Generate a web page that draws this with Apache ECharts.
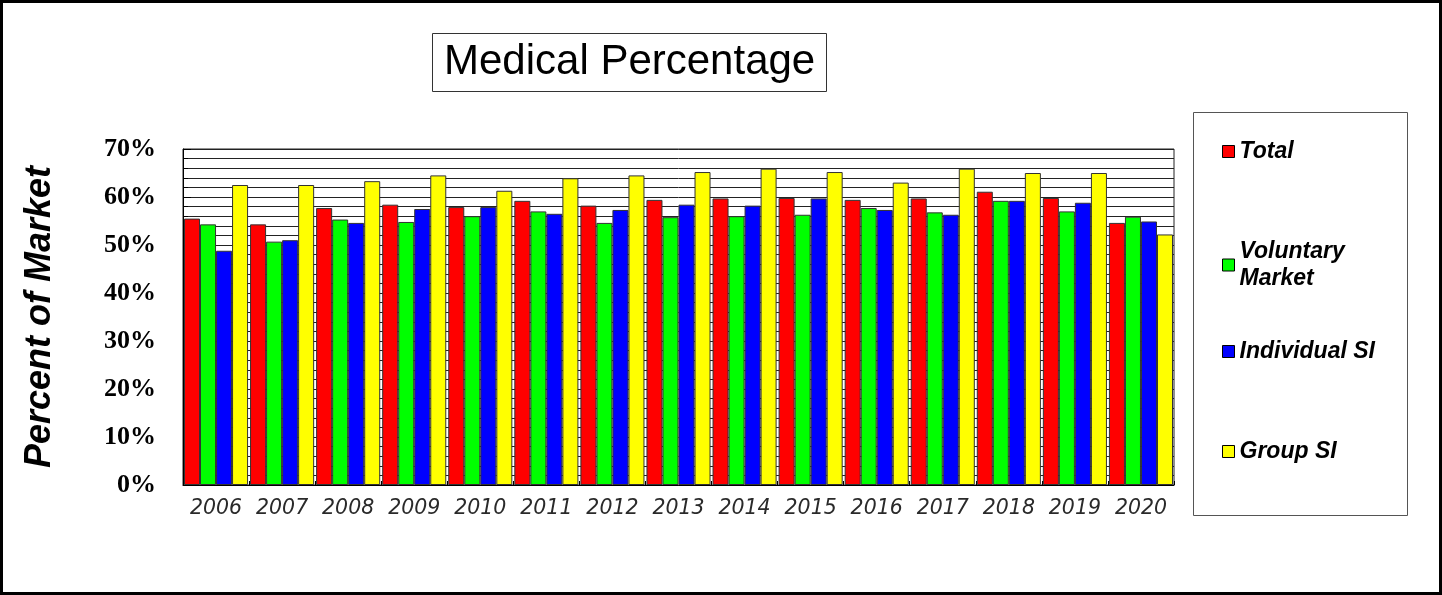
<!DOCTYPE html>
<html>
<head>
<meta charset="utf-8">
<script src="https://cdn.jsdelivr.net/npm/echarts@6/dist/echarts.min.js"></script>
<style>
  html, body { margin: 0; padding: 0; background: #ffffff; }
  #chart { width: 1442px; height: 595px; }
</style>
</head>
<body>
<div id="chart"></div>
<script>
// Share of the medical market, by year (percent)
const years = ['2006','2007','2008','2009','2010','2011','2012','2013','2014','2015','2016','2017','2018','2019','2020'];
const total      = [55.5, 54.3, 57.7, 58.4, 57.9, 59.2, 58.2, 59.4, 59.7, 59.8, 59.4, 59.7, 61.1, 59.8, 54.6];
const voluntary  = [54.3, 50.7, 55.3, 54.8, 56.0, 57.0, 54.6, 55.8, 56.0, 56.3, 57.7, 56.8, 59.2, 57.0, 55.9];
const individual = [48.8, 51.0, 54.6, 57.5, 57.9, 56.5, 57.3, 58.4, 58.2, 59.7, 57.3, 56.3, 59.2, 58.8, 54.9];
const groupSI    = [62.5, 62.5, 63.3, 64.5, 61.3, 63.9, 64.5, 65.2, 65.9, 65.2, 63.0, 65.9, 65.0, 65.0, 52.2];

const seriesNames = ['Total', 'Voluntary Market', 'Individual SI', 'Group SI'];
const seriesData = [total, voluntary, individual, groupSI];
const seriesColors = ['#ff0000', '#00ff00', '#0000ff', '#ffff00'];
const legendTops = [133, 233, 333, 433];

const chart = echarts.init(document.getElementById('chart'), null, { renderer: 'canvas' });

const legends = seriesNames.map((name, i) => ({
  data: [name],
  left: 1217,
  top: legendTops[i],
  orient: 'vertical',
  icon: 'rect',
  itemWidth: 12,
  itemHeight: 12,
  itemGap: 8,
  selectedMode: false,
  formatter: n => n === 'Voluntary Market' ? 'Voluntary\nMarket' : n,
  textStyle: {
    fontFamily: 'Liberation Sans, Arial, sans-serif',
    fontWeight: 'bold',
    fontStyle: 'italic',
    fontSize: 23,
    lineHeight: 27,
    color: '#000'
  },
  itemStyle: { borderColor: '#000', borderWidth: 1 }
}));

const option = {
  backgroundColor: '#ffffff',
  animation: false,
  title: {
    text: 'Medical Percentage',
    left: 432,
    top: 33,
    padding: [6, 12, 6, 12],
    borderColor: '#333',
    borderWidth: 1,
    textStyle: {
      fontFamily: 'Liberation Sans, Arial, sans-serif',
      fontWeight: 'normal',
      fontSize: 42,
      lineHeight: 47,
      color: '#000'
    }
  },
  legend: legends,
  grid: {
    left: 183,
    right: 268,
    top: 149,
    bottom: 110,
    show: true,
    borderColor: '#222',
    borderWidth: 1
  },
  xAxis: {
    type: 'category',
    data: years,
    axisLine: { lineStyle: { color: '#000', width: 1 } },
    axisTick: { show: true, inside: true, length: 4, lineStyle: { color: '#000' } },
    axisLabel: {
      margin: 14,
      fontFamily: 'DejaVu Sans, sans-serif',
      fontStyle: 'italic',
      fontSize: 20.5,
      color: '#2a2a2a',
      interval: 0
    }
  },
  yAxis: {
    type: 'value',
    min: 0,
    max: 70,
    interval: 10,
    name: 'Percent of Market',
    nameLocation: 'middle',
    nameRotate: 90,
    nameGap: 125,
    nameTextStyle: {
      fontFamily: 'Liberation Sans, Arial, sans-serif',
      fontWeight: 'bold',
      fontStyle: 'italic',
      fontSize: 36,
      color: '#000'
    },
    axisLine: { show: true, lineStyle: { color: '#000', width: 1 } },
    axisTick: { show: true, inside: true, length: 8, lineStyle: { color: '#000' } },
    minorTick: { show: true, splitNumber: 5, length: 5, lineStyle: { color: '#000' } },
    splitLine: { show: true, lineStyle: { color: '#222', width: 1 } },
    minorSplitLine: { show: true, lineStyle: { color: '#222', width: 1 } },
    axisLabel: {
      margin: 27,
      formatter: v => v + '%',
      fontFamily: 'Liberation Serif, Times New Roman, serif',
      fontWeight: 'bold',
      fontSize: 26,
      color: '#000'
    }
  },
  series: seriesNames.map((name, i) => ({
    name: name,
    type: 'bar',
    data: seriesData[i],
    barGap: '0%',
    barCategoryGap: '3%',
    itemStyle: { color: seriesColors[i], borderColor: '#333', borderWidth: 1 }
  })),
  graphic: [
    {
      type: 'rect',
      shape: { x: 1193.5, y: 112.5, width: 214, height: 403 },
      style: { fill: 'none', stroke: '#555', lineWidth: 1 },
      silent: true,
      z: 0
    },
    {
      type: 'rect',
      shape: { x: 1.5, y: 1.5, width: 1439, height: 592 },
      style: { fill: 'none', stroke: '#000', lineWidth: 3 },
      silent: true,
      z: 10
    }
  ]
};

chart.setOption(option);
</script>
</body>
</html>
